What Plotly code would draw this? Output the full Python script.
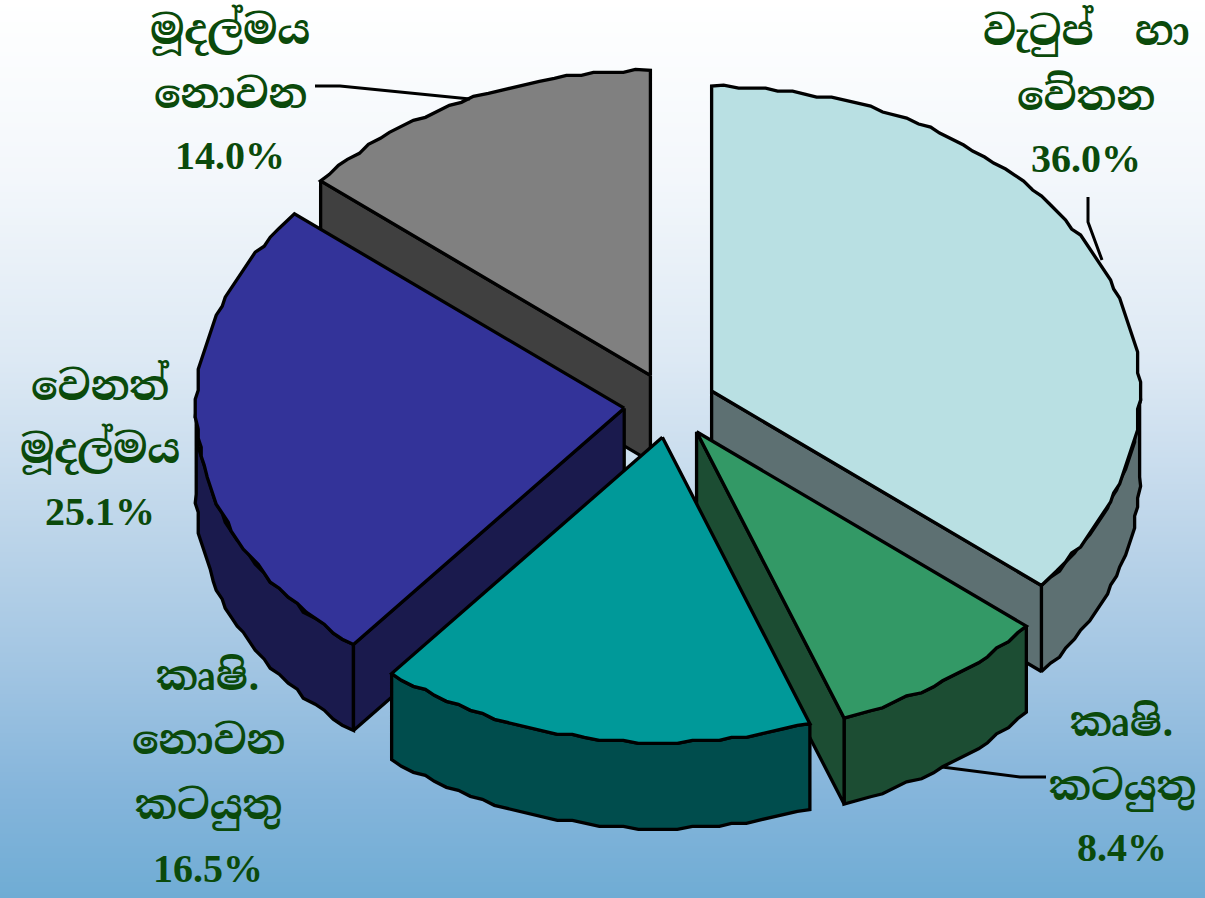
import math
import plotly.graph_objects as go

# ---- data ----
categories = ["වැටුප් හා වේතන", "කෘෂි. කටයුතු", "කෘෂි. නොවන කටයුතු", "වෙනත් මූදල්මය", "මූදල්මය නොවන"]
shares = [36.0, 8.4, 16.5, 25.1, 14.0]
share_labels = ["36.0%", "8.4%", "16.5%", "25.1%", "14.0%"]
label_lines = [["වැටුප්  හා", "වේතන"], ["කෘෂි.", "කටයුතු"], ["කෘෂි.", "නොවන", "කටයුතු"], ["වෙනත්", "මූදල්මය"], ["මූදල්මය", "නොවන"]]

top_colors = ["#B9E0E3", "#339966", "#009999", "#333399", "#808080"]
side_colors = ["#5D7072", "#1C4D33", "#004D4D", "#1A1A4D", "#404040"]
draw_order = [4, 0, 3, 1, 2]

# ---- layout of the drawing ----
W, H = 1205, 898
CX, CY, RX, RY, DEPTH, PULL = 670, 405, 428, 305, 86, 46
TEXT = "#0B4A0B"
FONT = "Noto Serif Sinhala, Noto Sans Sinhala, Iskoola Pota, Liberation Serif, serif"
NUM_FONT = "Liberation Serif, serif"
label_pos = [(1086, [31, 96, 158]), (1122, [722, 786, 847]), (208, [676, 740, 805, 868]),
             (100, [386, 449, 511]), (230, [30, 94, 155])]
leaders = [([1088, 1088, 1102], [197, 222, 260]),
           ([942, 1020, 1046], [767, 777, 777]),
           ([315, 340, 470], [86, 86, 99])]
bg_stops = [(0.0, "#FFFFFF"), (0.2, "#F3F7FB"), (0.4, "#DDE9F4"), (0.6, "#BBD4E9"),
            (0.75, "#A0C4E2"), (0.88, "#85B5DB"), (1.0, "#6FACD4")]
SNAP = 3
STEP_DEG = 1.8


def offset(theta, snap=True):
    a = math.radians(theta)
    dx, dy = RX * math.sin(a), -RY * math.cos(a)
    if snap:
        dx, dy = round(dx / SNAP) * SNAP, round(dy / SNAP) * SNAP
    return dx, dy


def pt(theta, ox, oy, dz=0, snap=False):
    dx, dy = offset(theta, snap)
    return ox + dx, oy + dy + dz


def arc(t0, t1, ox, oy, dz=0):
    lo, hi = min(t0, t1), max(t0, t1)
    n = max(2, int((hi - lo) / STEP_DEG))
    pts = [pt(lo + (hi - lo) * i / n, ox, oy, dz, snap=0 < i < n) for i in range(n + 1)]
    return pts if t0 < t1 else pts[::-1]


def poly(points, color, lw=3.3):
    return go.Scatter(x=[p[0] for p in points] + [points[0][0]],
                      y=[p[1] for p in points] + [points[0][1]],
                      mode="lines", fill="toself", fillcolor=color,
                      line=dict(color="black", width=lw, shape="linear"),
                      hoverinfo="skip", showlegend=False)


fig = go.Figure()
fig.add_trace(go.Heatmap(x=[-1, W + 1], y=[-1, H + 1], z=[[0, 0], [1, 1]], zsmooth="best",
                         colorscale=[list(s) for s in bg_stops], showscale=False, hoverinfo="skip"))

total = sum(shares)
starts, t = [], 0.0
for s in shares:
    starts.append(t)
    t += s / total * 360

for i in draw_order:
    t0 = starts[i]
    t1 = t0 + shares[i] / total * 360
    mid = math.radians((t0 + t1) / 2)
    ox = CX + PULL * math.sin(mid)
    oy = CY - PULL * RY / RX * math.cos(mid)
    apex = (ox, oy)
    apex_low = (ox, oy + DEPTH)
    # outer wall, front half only
    a0, a1 = max(t0, 90), min(t1, 270)
    if a0 < a1:
        fig.add_trace(poly(arc(a0, a1, ox, oy) + arc(a1, a0, ox, oy, DEPTH), side_colors[i]))
    # cut faces turned to the viewer
    if 180 < t0 < 360:
        fig.add_trace(poly([apex, pt(t0, ox, oy), pt(t0, ox, oy, DEPTH), apex_low], side_colors[i]))
    if 0 < t1 < 180:
        fig.add_trace(poly([apex, pt(t1, ox, oy), pt(t1, ox, oy, DEPTH), apex_low], side_colors[i]))
    # top
    fig.add_trace(poly([apex] + arc(t0, t1, ox, oy), top_colors[i]))

for lx, ly in leaders:
    fig.add_trace(go.Scatter(x=lx, y=ly, mode="lines", line=dict(color="black", width=3),
                             hoverinfo="skip", showlegend=False))

for i, (x, ys) in enumerate(label_pos):
    lines = label_lines[i] + [share_labels[i]]
    for j, (text, y) in enumerate(zip(lines, ys)):
        is_num = j == len(lines) - 1
        fig.add_annotation(x=x, y=y, text="<b>" + text + "</b>", showarrow=False,
                           xanchor="center", yanchor="middle",
                           font=dict(family=NUM_FONT if is_num else FONT, size=40 if is_num else 41, color=TEXT))

fig.update_xaxes(range=[0, W], visible=False, fixedrange=True)
fig.update_yaxes(range=[H, 0], visible=False, fixedrange=True)
fig.update_layout(width=W, height=H, margin=dict(l=0, r=0, t=0, b=0), showlegend=False,
                  paper_bgcolor="white", plot_bgcolor="white")
fig.write_html("out.html", config={"displayModeBar": False},
               post_script="document.body.style.margin='0';document.documentElement.style.overflow='hidden';")
